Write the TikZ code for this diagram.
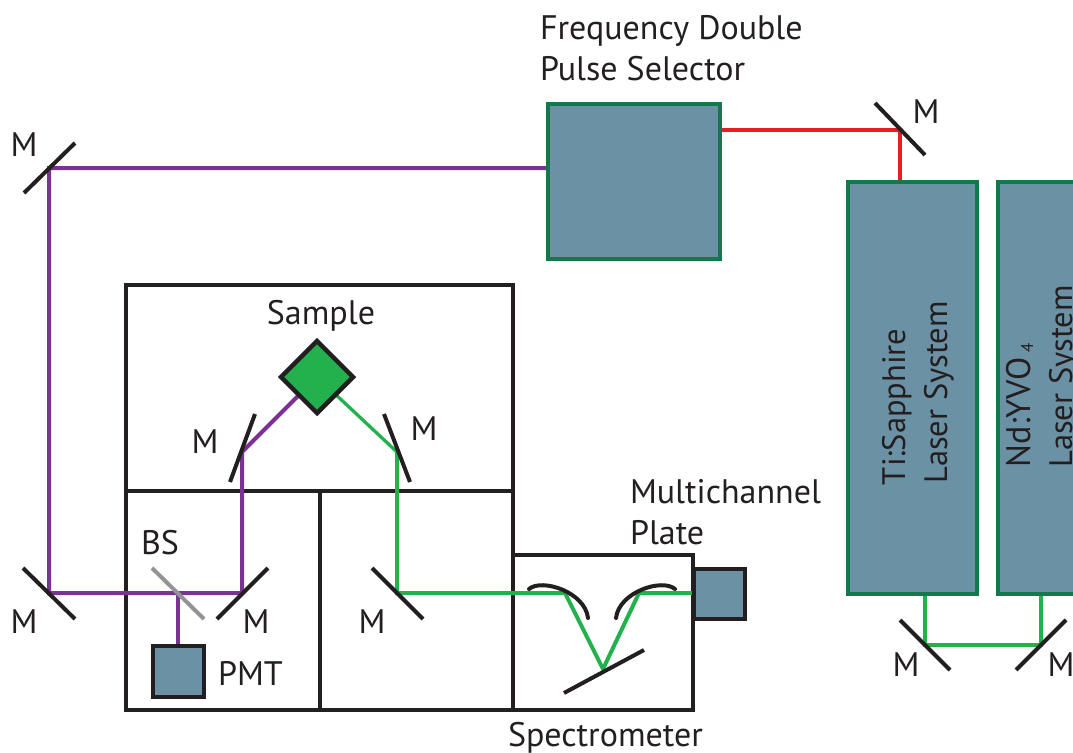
\documentclass[tikz,border=0pt]{standalone}
\usepackage{fontspec}
\usetikzlibrary{backgrounds}
\setmainfont{PT Sans}
\definecolor{ink}{HTML}{231F20}
\definecolor{steel}{HTML}{6B91A5}
\definecolor{dgreen}{HTML}{14784D}
\definecolor{beamgreen}{HTML}{22B14C}
\definecolor{beampurple}{HTML}{7B3294}
\definecolor{beamred}{HTML}{ED1C24}
\tikzset{
 unit/.style={draw=dgreen,fill=steel,line width=4pt,inner sep=0pt,outer sep=0pt},
 det/.style={draw=ink,fill=steel,line width=4.5pt,inner sep=0pt,outer sep=0pt},
 room/.style={draw=ink,line width=4.5pt,line join=miter},
 mirror/.style={draw=ink,line width=4pt},
 splitter/.style={draw=black!42,line width=4pt},
 purple beam/.style={draw=beampurple,line width=4pt,line join=miter},
 green beam/.style={draw=beamgreen,line width=4pt,line join=miter},
 red beam/.style={draw=beamred,line width=4pt,line join=miter},
 lab/.style={inner sep=0pt,outer sep=0pt,text=ink,font=\fontsize{34}{41}\selectfont},
 sidelab/.style={inner sep=0pt,outer sep=0pt,text=ink,font=\fontsize{32.5}{41}\selectfont},
}
\begin{document}
\begin{tikzpicture}[x=1pt,y=-1pt]
\useasboundingbox (0,0) rectangle (1073,752);
\clip (0,0) rectangle (1073,752);
% coordinates
\coordinate (fOut) at (720,130);
\coordinate (m1) at (900,130);
\coordinate (fIn) at (548,168);
\coordinate (m2) at (49,168);
\coordinate (m3) at (49,593);
\coordinate (m4) at (242,593);
\coordinate (m5) at (242,452);
\coordinate (bs) at (178,593);
\coordinate (m6) at (397,452);
\coordinate (m7) at (397,593);
\coordinate (g1) at (565,593);
\coordinate (g2) at (603,669);
\coordinate (g3) at (639,593);
\coordinate (m8) at (925,645);
\coordinate (m9) at (1041,645);
\coordinate (nt) at (925,594);
\coordinate (nu) at (1041,594);
% units
\node[unit,minimum width=172pt,minimum height=155pt,anchor=north west] (fd) at (548,104) {};
\node[unit,minimum width=129pt,minimum height=412pt,anchor=north west] (ti) at (848,182) {};
\node[unit,minimum width=120pt,minimum height=412pt,anchor=north west] (nd) at (998,182) {};
\node[det,minimum width=51pt,minimum height=51pt,anchor=north west] (pmt) at (153,646) {};
\node[det,minimum width=51pt,minimum height=50pt,anchor=north west] (mcp) at (694,569) {};
\node[draw=ink,fill=beamgreen,line width=4.5pt,minimum size=51pt,inner sep=0pt,outer sep=0pt,rotate=45] (sample) at (317,377) {};
\begin{scope}[on background layer]
% rooms
\draw[room] (126,285) rectangle (513,491);
\draw[room] (126,491) rectangle (320,710);
\draw[room] (320,491) rectangle (513,710);
\draw[room] (513,555) rectangle (693,710);
% beams
\draw[red beam] (fOut) -- (m1) -- (m1 |- ti.north);
\draw[purple beam] (fd.west |- fIn) -- (m2) -- (m3) -- (m4) -- (m5) -- (sample.center);
\draw[purple beam] (bs) -- (bs |- pmt.north);
\draw[green beam,line width=3.3pt] (sample.center) -- (m6);
\draw[green beam] (m6) -- (m7) -- (g1) -- (g2) -- (g3) -- (mcp.west |- g3);
\draw[green beam] (nt) -- (m8) -- (m9) -- (nu);
\end{scope}
% mirrors
\draw[mirror] (875,103) -- (925,155);
\draw[mirror] (24,193) -- (75,143);
\draw[mirror] (23,568) -- (75,619);
\draw[mirror] (217,619) -- (268,568);
\draw[splitter] (152,568) -- (204,619);
\draw[mirror] (255,414) -- (230,482);
\draw[mirror] (384,414) -- (410,482);
\draw[mirror] (372,568) -- (423,619);
\draw[mirror] (564,693) -- (644,650);
\draw[mirror] (900,620) -- (950,670);
\draw[mirror] (1016,670) -- (1066,620);
\draw[mirror,line cap=round] (529,589) .. controls (542,578) and (585,592) .. (588,618);
\draw[mirror,line cap=round] (616,618) .. controls (619,592) and (662,578) .. (675,589);
% labels
\node[lab,anchor=base west] (t1) at (540,40) {Frequency Double};
\node[lab,anchor=base west] (t2) at (540,81) {Pulse Selector};
\node[lab,anchor=base] (t3) at (321,324) {Sample};
\node[lab,anchor=base west] (t4) at (630,503) {Multichannel};
\node[lab,anchor=base west] (t5) at (630,544) {Plate};
\node[lab,anchor=base west] (t6) at (508,746) {Spectrometer};
\node[lab,anchor=base west] (t7) at (141,554) {BS};
\node[lab,anchor=base west] (t8) at (218,685) {PMT};
\node[lab,anchor=base] (m_a) at (926,123) {M};
\node[lab,anchor=base] (m_b) at (24,156) {M};
\node[lab,anchor=base] (m_c) at (24,633) {M};
\node[lab,anchor=base] (m_d) at (256,633) {M};
\node[lab,anchor=base] (m_e) at (205,453) {M};
\node[lab,anchor=base] (m_f) at (424,440) {M};
\node[lab,anchor=base] (m_g) at (372,633) {M};
\node[lab,anchor=base] (m_h) at (906,676) {M};
\node[lab,anchor=base] (m_i) at (1061,676) {M};
\node[sidelab,anchor=base west,rotate=90] (t9) at (905,485) {Ti:Sapphire};
\node[sidelab,anchor=base west,rotate=90] (t10) at (947,483) {Laser System};
\node[lab,anchor=base west,rotate=90] (t11) at (1030,467) {Nd:YVO\,\raisebox{-3pt}{\fontsize{17}{20}\selectfont 4}};
\node[sidelab,anchor=base west,rotate=90] (t12) at (1072,467) {Laser System};
\end{tikzpicture}
\end{document}
